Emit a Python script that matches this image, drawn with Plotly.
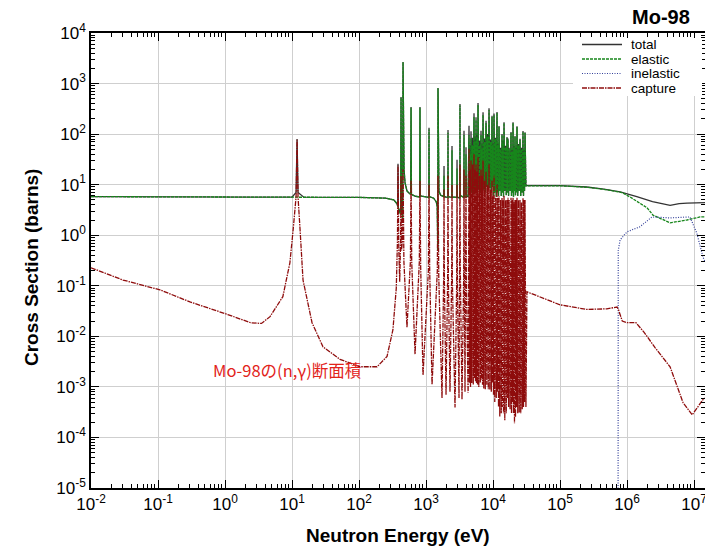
import plotly.graph_objects as go

# ---------------- data (energy in eV, cross section in barns) ----------------
# low-energy + isolated-resonance part
total_low_E = [0.01, 0.1, 1.0, 10.0, 11.5, 11.9, 12.3, 15, 100, 250, 330, 370, 378, 382, 386, 418, 424, 430,
               448, 454, 460, 470, 486, 520, 560, 590, 598, 606, 700, 805, 813, 822, 950, 1100, 1109, 1118,
               1300, 1420, 1470, 1500, 1510, 1520, 1560, 1650, 1850, 1857, 1864, 2120, 2130, 2140, 2435, 2444,
               2453, 2890, 2904, 2915, 3200, 3214, 3230, 3300, 3680, 3690, 3700, 3945, 3954, 3965]
total_low_xs = [5.8, 5.75, 5.7, 5.65, 7.0, 80, 7.0, 5.65, 5.6, 5.4, 5.0, 4.2, 3.7, 26, 3.5, 2.6, 543, 3.6,
                2.2, 2670, 60, 20, 11, 7.5, 6.8, 6.5, 345, 6.4, 5.9, 5.7, 345, 6.0, 5.8, 5.6, 133, 5.8,
                5.4, 4.6, 3.7, 0.5, 818, 15, 7.5, 6.2, 5.8, 23.5, 5.8, 5.6, 121, 5.8, 5.6, 58,
                5.7, 5.6, 31, 5.7, 5.4, 395, 6.5, 6.0, 5.6, 116, 5.8, 5.7, 55, 5.9]

elastic_low_E = [0.01, 0.1, 1.0, 10.0, 15, 100, 250, 330, 370, 378, 386, 418, 424, 430, 448, 454, 460, 470,
                 486, 520, 560, 590, 598, 606, 700, 805, 813, 822, 950, 1100, 1109, 1118, 1300, 1420, 1470,
                 1500, 1510, 1520, 1560, 1650, 1850, 1857, 1864, 2120, 2130, 2140, 2435, 2444, 2453, 2890,
                 2904, 2915, 3200, 3214, 3230, 3300, 3680, 3690, 3700, 3945, 3954, 3965]
elastic_low_xs = [5.8, 5.75, 5.7, 5.65, 5.65, 5.6, 5.4, 5.0, 4.2, 3.7, 3.5, 2.6, 528, 3.6, 2.2, 2650, 60, 20,
                  11, 7.5, 6.8, 6.5, 333, 6.4, 5.9, 5.7, 333, 6.0, 5.8, 5.6, 123, 5.8, 5.4, 4.6, 3.7,
                  0.5, 803, 15, 7.5, 6.2, 5.8, 15, 5.8, 5.6, 106, 5.8, 5.6, 48, 5.7, 5.6,
                  21, 5.7, 5.4, 370, 6.5, 6.0, 5.6, 96, 5.8, 5.7, 40, 5.9]

capture_low_E = [0.01, 0.03, 0.107, 0.3, 1.1, 2.4, 3.5, 4.7, 7.3, 9.3, 10.4, 11.5, 11.9, 12.3, 13.2, 14.6,
                 19.9, 29, 52, 104, 186, 262, 321, 360, 375, 382, 392, 405, 418, 424, 432, 445, 454, 468,
                 520, 585, 598, 612, 686, 795, 813, 832, 902, 1085, 1109, 1135, 1230, 1475, 1510, 1550,
                 1734, 1835, 1857, 1880, 1990, 2105, 2130, 2155, 2280, 2415, 2444, 2475, 2710, 2870, 2904,
                 2940, 3110, 3180, 3214, 3250, 3445, 3650, 3690, 3730, 3820, 3920, 3954, 4000]
capture_low_xs = [0.227, 0.13, 0.083, 0.048, 0.027, 0.0186, 0.018, 0.0245, 0.061, 0.285, 1.28, 5.7, 77, 5.7,
                  1.28, 0.13, 0.0186, 0.0062, 0.0035, 0.0025, 0.0025, 0.004, 0.0135, 0.09, 0.8, 24, 0.6,
                  0.12, 0.8, 15, 0.5, 0.8, 20, 0.3, 0.015, 0.3, 12, 0.3, 0.0044, 0.3, 12, 0.25, 0.0017,
                  0.2, 10, 0.2, 0.0011, 0.2, 15, 0.15, 0.0006, 0.15, 8, 0.12, 0.0007, 0.15, 15, 0.15,
                  0.0008, 0.15, 10, 0.12, 0.00039, 0.12, 10, 0.1, 0.0006, 0.2, 25, 0.2, 0.00056, 0.15,
                  20, 0.15, 0.0008, 0.15, 15, 0.1]

# dense resonance band: resonance energies, and the gaps between them
dense_res_E = [4383, 4540, 4697, 4950, 5205, 5385, 5577, 5770, 5975, 6300, 6622, 6855, 7096, 7480, 7867,
               8300, 8718, 9200, 9665, 10000, 10355, 10900, 11475, 11880, 12295, 12950, 13625, 14100, 14600,
               15400, 16180, 16750, 17400, 18570, 19220, 19900, 20560, 21300, 22030, 22810, 24000, 25290,
               26600, 28040, 29000, 30050]
dense_gap_E = [4250, 4460, 4618, 4820, 5075, 5295, 5480, 5672, 5870, 6135, 6460, 6738, 6975, 7285, 7670,
               8080, 8505, 8955, 9430, 9830, 10175, 10625, 11185, 11675, 12085, 12620, 13285, 13860, 14350,
               14990, 15780, 16460, 17070, 17980, 18890, 19555, 20225, 20925, 21660, 22415, 23400, 24640,
               25940, 27300, 28520, 29520, 31000]
total_peak = [146, 60, 114, 85, 259, 90, 215, 98, 413, 75, 116, 65, 270, 82, 184, 100, 325, 78, 231, 66,
              255, 85, 273, 65, 144, 54, 101, 74, 172, 59, 88, 82, 54, 110, 49, 171, 59, 92, 54, 143,
              64, 81, 54, 115, 49, 109]
total_gap = [5.8, 6.5, 6, 7, 6.5, 8, 7, 7.5, 6.5, 8, 7, 9, 7.5, 8, 7, 9, 8, 8.5, 7, 9,
             6, 7, 5.8, 7, 6, 7.5, 6, 7, 5.8, 7.5, 6.2, 7, 6, 7.5, 6, 7, 5.8, 7.5, 6.2, 7,
             6, 7.5, 6, 7, 6, 7.5, 9.5]
elastic_peak = [96, 40, 84, 60, 219, 70, 190, 80, 378, 60, 96, 50, 240, 70, 166, 90, 300, 70, 219, 60,
                240, 80, 263, 60, 138, 50, 96, 70, 166, 55, 84, 77, 50, 105, 45, 166, 55, 88, 50, 138,
                60, 77, 50, 111, 45, 105]
elastic_gap = [5.8, 6.5, 6, 7, 6.5, 8, 7, 7.5, 6.5, 8, 7, 9, 7.5, 8, 7, 9, 8, 8.5, 7, 9,
               6, 7, 5.8, 7, 6, 7.5, 6, 7, 5.8, 7.5, 6.2, 7, 6, 7.5, 6, 7, 5.8, 7.5, 6.2, 7,
               6, 7.5, 6, 7, 6, 7.5, 9.4]
capture_peak = [50, 20, 30, 25, 40, 20, 25, 18, 35, 15, 20, 15, 30, 12, 18, 10, 25, 8, 12,
                6, 15, 5.5, 10, 5.5, 6, 5, 5.5, 5, 6, 5, 5, 5.5, 5, 5.5, 5, 5.5, 4.5, 5, 5,
                5.5, 5, 5, 4.5, 5.5, 5, 5]
capture_gap = [0.00077, 0.0012, 0.001, 0.0012, 0.0011, 0.0015, 0.0013, 0.0012, 0.0011, 0.001,
               0.0012, 0.0014, 0.0011, 0.00093, 0.0009, 0.0011, 0.0009, 0.00088, 0.0008, 0.0012,
               0.0007, 0.0005, 0.0006, 0.0008, 0.0004, 0.00026, 0.0003, 0.0004, 0.0003, 0.00022,
               0.0003, 0.0006, 0.0004, 0.00036, 0.0003, 0.0005, 0.0003, 0.00019, 0.00025, 0.0004,
               0.0003, 0.00031, 0.0003, 0.00036, 0.0004, 0.0005, 0.0004]

# fast-neutron part
total_high_E = [32100, 1.0e5, 2.5e5, 4.5e5, 7.9e5, 1.4e6, 2.4e6, 4.4e6, 6.0e6, 7.9e6, 1.46e7]
total_high_xs = [9.6, 9.6, 9.0, 8.2, 7.2, 5.8, 4.6, 3.9, 4.2, 4.3, 4.4]
elastic_high_E = [32100, 1.0e5, 2.5e5, 4.5e5, 7.3e5, 8.4e5, 1.11e6, 1.99e6, 2.44e6, 4.39e6, 7.87e6, 1.23e7, 1.46e7]
elastic_high_xs = [9.5, 9.5, 8.9, 8.1, 7.3, 7.0, 5.7, 3.5, 2.5, 1.76, 2.0, 2.3, 2.3]
inelastic_E = [7.35e5, 7.4e5, 7.9e5, 1.0e6, 1.56e6, 2.36e6, 4.39e6, 8.7e6, 1.1e7, 1.36e7, 1.46e7]
inelastic_xs = [1e-6, 0.5, 0.81, 1.17, 1.47, 2.3, 2.2, 2.3, 1.1, 0.37, 0.3]
capture_high_E = [32100, 1.0e5, 2.53e5, 5.0e5, 7.1e5, 7.5e5, 8.5e5, 1.0e6, 1.36e6, 1.8e6, 2.62e6, 4.39e6,
                  6.85e6, 9.4e6, 1.36e7, 1.46e7]
capture_high_xs = [0.076, 0.042, 0.034, 0.035, 0.038, 0.033, 0.02, 0.0186, 0.0186, 0.012, 0.006, 0.0025,
                   0.00049, 0.00028, 0.00056, 0.0006]

x_decades = list(range(-2, 8))
y_decades = list(range(-5, 5))
legend_names = ["total", "elastic", "inelastic", "capture"]
note_text = "Mo-98の(n,γ)断面積"
title_text = "Mo-98"


def interleave(gap_e, gap_v, res_e, res_v):
    xs, ys = [], []
    for i in range(len(res_e)):
        xs += [gap_e[i], res_e[i]]
        ys += [gap_v[i], res_v[i]]
    xs.append(gap_e[-1])
    ys.append(gap_v[-1])
    return xs, ys


def series(low_e, low_v, peak, gap, high_e, high_v):
    de, dv = interleave(dense_gap_E, gap, dense_res_E, peak)
    return low_e + de + high_e, low_v + dv + high_v


tot_x, tot_y = series(total_low_E, total_low_xs, total_peak, total_gap, total_high_E, total_high_xs)
el_x, el_y = series(elastic_low_E, elastic_low_xs, elastic_peak, elastic_gap, elastic_high_E, elastic_high_xs)
cap_x, cap_y = series(capture_low_E, capture_low_xs, capture_peak, capture_gap, capture_high_E, capture_high_xs)

styles = {
    "total": dict(color="#333333", width=1.3, dash="solid"),
    "elastic": dict(color="#17861b", width=1.3, dash="3px,1px"),
    "inelastic": dict(color="#34419a", width=1.2, dash="1px,1.5px"),
    "capture": dict(color="#8e0c0c", width=1.3, dash="5px,1px,1.5px,1px"),
}

fig = go.Figure()
fig.add_trace(go.Scatter(x=tot_x, y=tot_y, mode="lines", name="total", line=styles["total"], showlegend=False))
fig.add_trace(go.Scatter(x=el_x, y=el_y, mode="lines", name="elastic", line=styles["elastic"], showlegend=False))
fig.add_trace(go.Scatter(x=inelastic_E, y=inelastic_xs, mode="lines", name="inelastic",
                         line=styles["inelastic"], showlegend=False))
fig.add_trace(go.Scatter(x=cap_x, y=cap_y, mode="lines", name="capture", line=styles["capture"], showlegend=False))

FONT = "Liberation Sans, Arial, Helvetica, sans-serif"


def sup(d):
    return "10<sup>%d</sup>" % d


axis_common = dict(
    type="log", showline=True, linecolor="black", linewidth=1.5, mirror="allticks",
    ticks="inside", ticklen=8, tickwidth=1.2, tickcolor="black",
    showgrid=True, gridcolor="#cfcfcf", gridwidth=1.4, zeroline=False,
    tickfont=dict(family=FONT, size=17, color="black"), ticklabeloverflow="allow",
)

fig.update_xaxes(
    range=[-2, 7.164], tickmode="array",
    tickvals=[10.0 ** d for d in x_decades], ticktext=[sup(d) for d in x_decades],
    minor=dict(tickmode="array", tickvals=[m * 10.0 ** d for d in x_decades for m in range(2, 10)],
               ticks="inside", ticklen=4, tickwidth=1, tickcolor="black", showgrid=False),
    **axis_common,
)
fig.update_yaxes(
    range=[-5, 4], tickmode="array",
    tickvals=[10.0 ** d for d in y_decades], ticktext=[sup(d) for d in y_decades],
    minor=dict(tickmode="array", tickvals=[m * 10.0 ** d for d in y_decades for m in range(2, 10)],
               ticks="inside", ticklen=4, tickwidth=1, tickcolor="black", showgrid=False),
    **axis_common,
)

L, R, T, B = 91, 0, 33, 62
W, H = 705, 550
PW, PH = W - L - R, H - T - B


def px(xp):
    return (xp - L) / PW


def py(yp):
    return (H - B - yp) / PH


shapes = [dict(type="rect", xref="paper", yref="paper", x0=px(573), x1=px(702), y0=py(96), y1=py(38),
               fillcolor="white", line=dict(width=0), layer="above")]
annotations = []
rows = [44.5, 59, 73.5, 88]
for name, yrow in zip(legend_names, rows):
    st = styles[name]
    shapes.append(dict(type="line", xref="paper", yref="paper", x0=px(582), x1=px(622), y0=py(yrow), y1=py(yrow),
                       line=dict(color=st["color"], width=st["width"], dash=st["dash"]), layer="above"))
    annotations.append(dict(xref="paper", yref="paper", x=px(629), y=py(yrow), xanchor="left", yanchor="middle",
                            text=name, showarrow=False, font=dict(family=FONT, size=13.5, color="black")))

annotations += [
    dict(xref="paper", yref="paper", x=px(692), y=py(17), xanchor="right", yanchor="middle", text="<b>%s</b>" % title_text,
         showarrow=False, font=dict(family=FONT, size=20, color="black")),
    dict(xref="paper", yref="paper", x=px(398), y=py(535), xanchor="center", yanchor="middle",
         text="<b>Neutron Energy (eV)</b>", showarrow=False, font=dict(family=FONT, size=19, color="black")),
    dict(xref="paper", yref="paper", x=px(31), y=py(268), xanchor="center", yanchor="middle", textangle=-90,
         text="<b>Cross Section (barns)</b>", showarrow=False, font=dict(family=FONT, size=19, color="black")),
    dict(xref="paper", yref="paper", x=px(211), y=py(370), xanchor="left", yanchor="middle", text=note_text,
         showarrow=False, font=dict(family="Noto Sans CJK JP, Noto Sans, sans-serif", size=16.5, color="#e2231a")),
]

fig.update_layout(
    width=W, height=H, margin=dict(l=L, r=R, t=T, b=B, autoexpand=False),
    paper_bgcolor="white", plot_bgcolor="white",
    shapes=shapes, annotations=annotations, showlegend=False,
)

fig.write_html("out.html", config={"displayModeBar": False},
               post_script="document.body.style.margin='0px';document.body.style.padding='0px';"
                           "document.body.style.overflow='hidden';")
